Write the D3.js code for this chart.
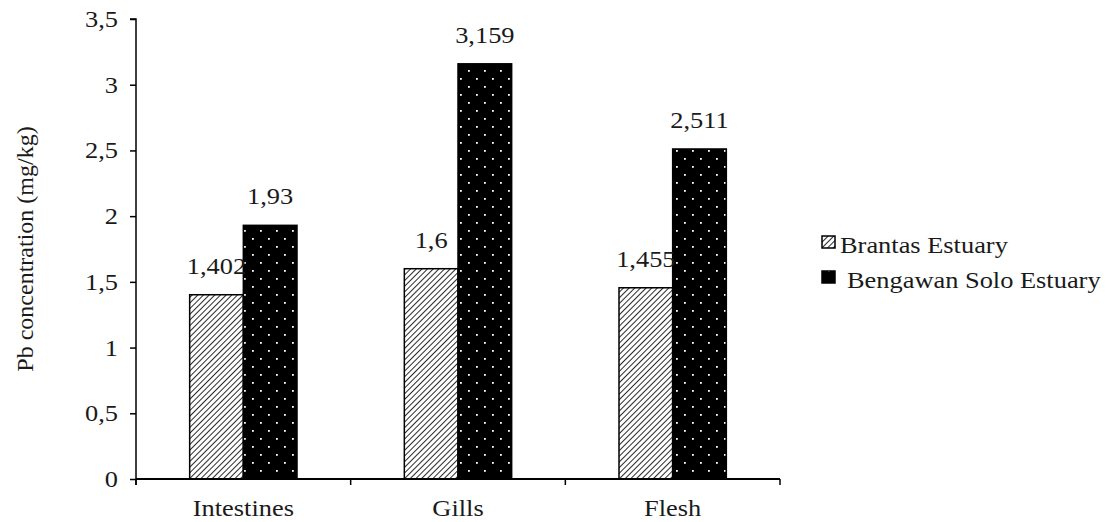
<!DOCTYPE html>
<html>
<head>
<meta charset="utf-8">
<script src="https://cdn.jsdelivr.net/npm/d3@7"></script>
<style>
  html, body { margin: 0; padding: 0; background: #fff; }
  svg { display: block; }
  text { font-family: "Liberation Serif", "Times New Roman", serif; fill: #1a1a1a; }
</style>
</head>
<body>
<svg id="chart" width="1107" height="522"></svg>
<script>
const categories = ["Intestines", "Gills", "Flesh"];
const seriesNames = ["Brantas Estuary", "Bengawan Solo Estuary"];
const brantas = [1.402, 1.6, 1.455];
const bengawan = [1.93, 3.159, 2.511];
const yTicks = [0, 0.5, 1, 1.5, 2, 2.5, 3, 3.5];
const yTitle = "Pb concentration (mg/kg)";

(function () {
const svg = d3.select("#chart");
const defs = svg.append("defs");

const hatch = defs.append("pattern").attr("id", "hatch")
  .attr("patternUnits", "userSpaceOnUse").attr("width", 4).attr("height", 4)
  .attr("patternTransform", "rotate(45)");
hatch.append("rect").attr("width", 4).attr("height", 4).attr("fill", "#fff");
hatch.append("line").attr("x1", 0).attr("y1", 0).attr("x2", 0).attr("y2", 4)
  .attr("stroke", "#111").attr("stroke-width", 1.8);

const dots = defs.append("pattern").attr("id", "dots")
  .attr("patternUnits", "userSpaceOnUse").attr("width", 16).attr("height", 16)
  .attr("x", 2).attr("y", 4);
dots.append("rect").attr("width", 16).attr("height", 16).attr("fill", "#000");
dots.append("rect").attr("x", 2).attr("y", 2).attr("width", 1.8).attr("height", 1.8).attr("fill", "#fff");
dots.append("rect").attr("x", 10).attr("y", 10).attr("width", 1.8).attr("height", 1.8).attr("fill", "#fff");

const fills = ["url(#hatch)", "url(#dots)"];
const FS = 24;
const SX = 1.1;

const mLeft = 136, mRight = 780, mTop = 19, mBottom = 479;
const x = d3.scaleBand().domain(categories).range([mLeft, mRight])
  .paddingInner(0.5).paddingOuter(0.25);
const xs = d3.scaleBand().domain(seriesNames).range([0, x.bandwidth()]);
const y = d3.scaleLinear().domain([0, 3.5]).range([mBottom, mTop]);

const fmt = v => String(v).replace(".", ",");

function sText(g, px, py, str, anchor) {
  return g.append("text")
    .attr("transform", `translate(${px},${py}) scale(${SX},1)`)
    .attr("text-anchor", anchor)
    .attr("font-size", FS)
    .text(str);
}

const seriesData = [brantas, bengawan];

seriesNames.forEach((s, si) => {
  svg.append("g").selectAll("rect")
    .data(categories.map((c, i) => ({ c, v: seriesData[si][i] })))
    .join("rect")
    .attr("x", d => x(d.c) + xs(s))
    .attr("y", d => y(d.v))
    .attr("width", xs.bandwidth())
    .attr("height", d => y(0) - y(d.v))
    .attr("fill", fills[si])
    .attr("stroke", "#000")
    .attr("stroke-width", 1.5);
});

const lab = svg.append("g");
seriesNames.forEach((s, si) => {
  categories.forEach((c, i) => {
    const v = seriesData[si][i];
    sText(lab, x(c) + xs(s) + xs.bandwidth() / 2, y(v) - 21, fmt(v), "middle");
  });
});

const yAxis = svg.append("g").attr("transform", `translate(${mLeft},0)`)
  .call(d3.axisLeft(y).tickValues(yTicks).tickSize(6).tickFormat(() => ""));
yAxis.select(".domain").attr("stroke", "#000").attr("stroke-width", 1.5)
  .attr("d", `M-6,${mTop}H0V${mBottom + 6}`);
yAxis.selectAll(".tick line").attr("stroke", "#000").attr("stroke-width", 1.5);
const yl = svg.append("g");
yTicks.forEach(t => sText(yl, 118, y(t) + 8, fmt(t), "end"));

const xl = svg.append("g");
xl.append("line").attr("x1", mLeft).attr("x2", mRight).attr("y1", mBottom).attr("y2", mBottom)
  .attr("stroke", "#000").attr("stroke-width", 2);
const bounds = categories.map(c => x(c) - (x.step() - x.bandwidth()) / 2).concat([mRight]);
xl.selectAll("line.tk").data(bounds).join("line").attr("class", "tk")
  .attr("x1", d => d).attr("x2", d => d).attr("y1", mBottom).attr("y2", mBottom + 6)
  .attr("stroke", "#000").attr("stroke-width", 1.5);
categories.forEach(c => sText(xl, x(c) + x.bandwidth() / 2, 516, c, "middle"));

svg.append("text")
  .attr("transform", `translate(33,${(mTop + mBottom) / 2}) rotate(-90)`)
  .attr("text-anchor", "middle").attr("font-size", FS).text(yTitle);

const lg = svg.append("g");
const legendY = [247, 282];
seriesNames.forEach((s, si) => {
  lg.append("rect").attr("x", 822).attr("y", legendY[si] - 11).attr("width", 13).attr("height", 12)
    .attr("fill", fills[si]).attr("stroke", "#000").attr("stroke-width", 1.5);
  sText(lg, si === 0 ? 840 : 847, legendY[si] + 6, s, "start");
});
})();
</script>
</body>
</html>
